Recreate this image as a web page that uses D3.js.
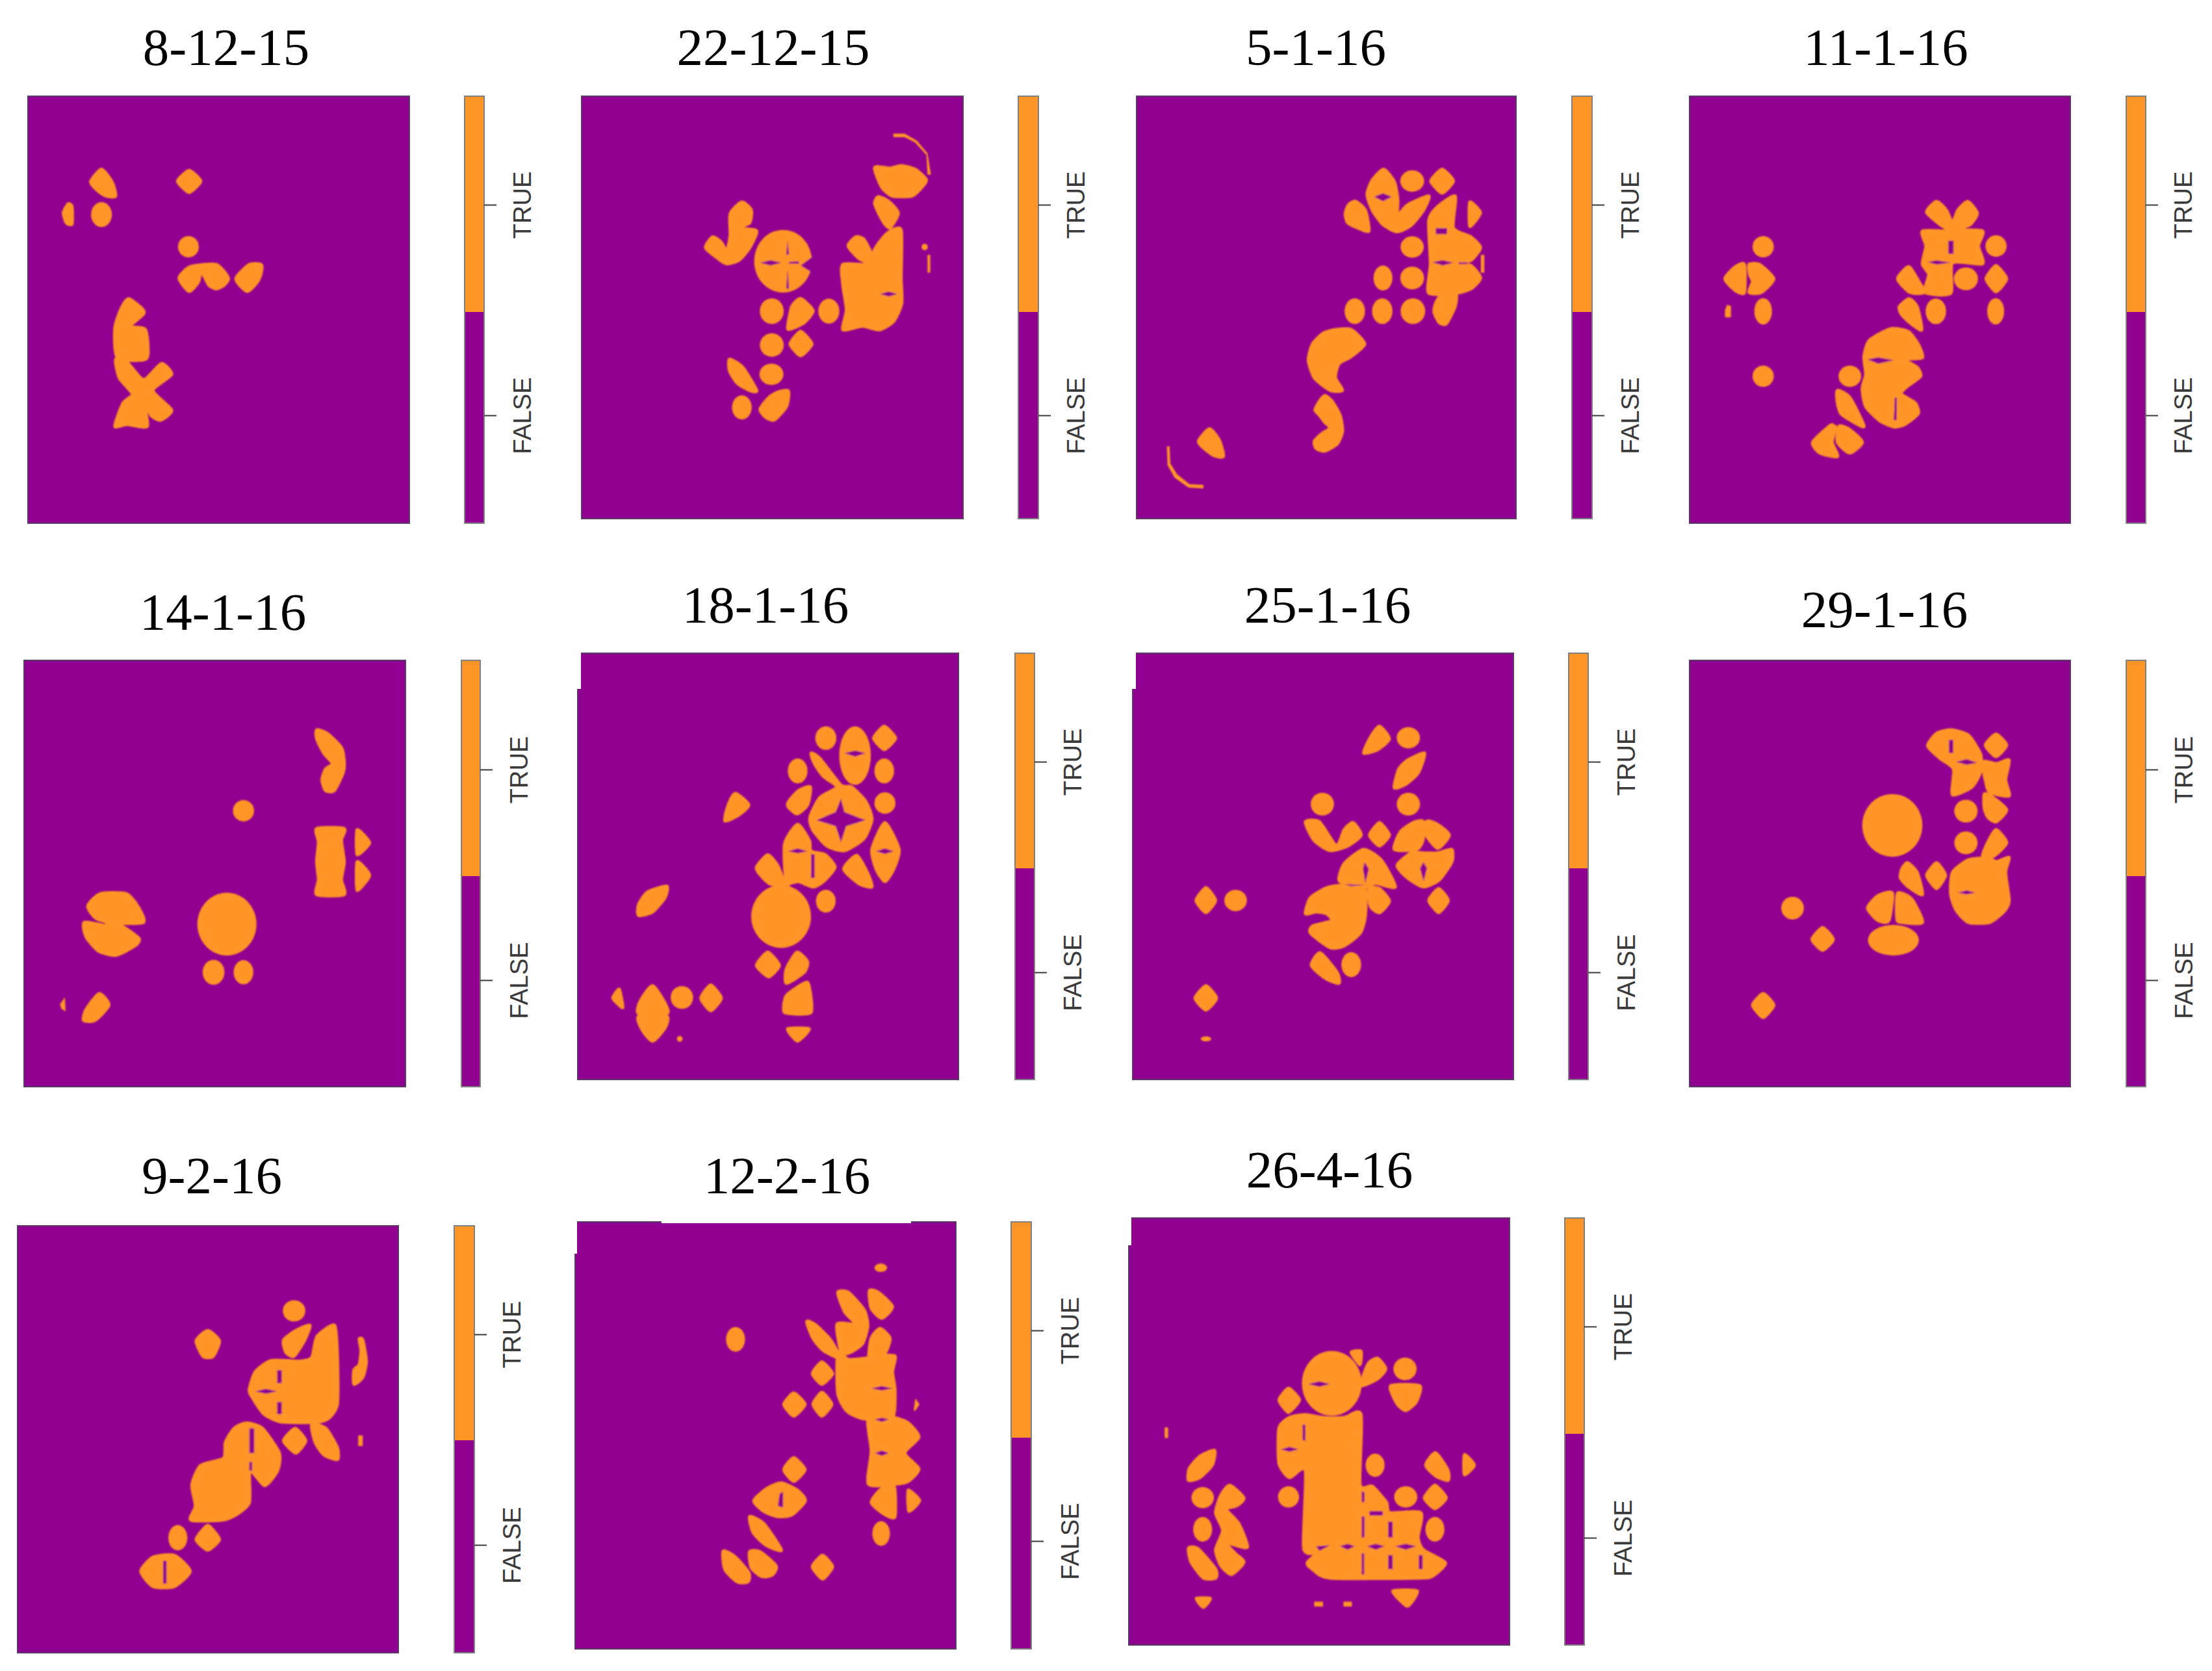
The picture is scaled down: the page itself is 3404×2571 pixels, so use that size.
<!DOCTYPE html>
<html><head><meta charset="utf-8">
<script src="https://cdn.jsdelivr.net/npm/d3@7"></script>
<style>html,body{margin:0;background:#fff}svg{display:block}</style></head>
<body><div id="chart"></div>
<script>
const categories = ["TRUE","FALSE"];
const dates = ["8-12-15","22-12-15","5-1-16","11-1-16","14-1-16","18-1-16","25-1-16","29-1-16","9-2-16","12-2-16","26-4-16"];

// TRUE regions per date. Round regions: cx,cy,rx,ry. Outlines: flat x,y lists.
const round_8_12_15=[[272,602,28,35],[505,692,28,30]];
const true_8_12_15=[[272,475,300,510,310,550,285,550,262,535,243,510],[507,478,538,508,507,540,476,508],[183,572,193,580,193,628,178,625,170,597],[480,780,510,748,580,742,612,780,600,800,580,810,560,800,545,770,538,760,532,790,507,817],[700,742,668,742,632,782,662,817,690,790,700,765],[345,838,380,865,385,880,350,915,390,925,393,1005,315,1003,308,920,325,865],[310,1008,340,1015,385,1065,432,1020,460,1050,410,1095,460,1150,430,1178,405,1165,385,1125,395,1195,340,1190,308,1195,330,1130,355,1105,320,1060]];
const false_8_12_15=[];

const round_22_12_15=[[655,733,82,88],[1057,693,9,9],[623,873,34,36],[785,873,30,35],[623,968,34,33],[622,1050,34,30],[538,1143,28,34]];
const true_22_12_15=[[968,375,1000,375,1035,395,1065,430,1075,490,1065,490,1062,435,1030,400,1000,385,968,385],[915,470,960,472,990,465,1030,475,1062,505,1045,530,1020,550,965,550,935,525],[925,552,955,565,982,598,960,638,945,630,925,595,915,570],[538,567,565,590,560,625,530,640,580,648,560,695,530,730,495,740,470,725,435,695,455,665,480,680,495,705,505,660,505,600],[840,690,862,665,885,672,912,725,905,740,870,725],[825,742,905,742,915,700,950,655,990,645,990,780,992,850,970,900,930,925,880,915,825,925,835,870,825,800],[1065,715,1073,715,1073,765,1065,765],[705,838,740,872,715,905,680,922,668,920,680,860],[705,930,737,965,705,998,675,965],[503,1008,540,1030,580,1095,560,1095,525,1075,503,1040],[670,1097,665,1140,630,1178,605,1170,590,1148,615,1115,640,1100]];
const false_22_12_15=[[745,715,705,745,745,770],[668,675,672,715,664,715],[668,755,672,810,664,810],[590,737,620,730,650,737,620,745],[672,735,700,733,700,740,672,740],[930,825,955,818,980,825,955,832]];

const round_5_1_16=[[873,508,34,30],[873,693,33,30],[790,780,27,35],[873,780,34,32],[710,873,29,36],[788,873,29,36],[875,873,35,36]];
const true_5_1_16=[[792,475,822,510,832,560,830,615,838,600,860,575,920,550,905,590,870,632,830,650,790,630,760,590,745,545,760,505],[958,475,990,508,958,542,926,508],[712,565,740,590,750,648,720,640,690,625,683,600,692,575],[1037,567,1067,597,1037,635],[995,550,990,640,1040,665,1067,695,1040,730,1000,740,1040,745,1067,780,1040,810,1000,822,920,822,925,740,920,620,940,585],[1068,715,1078,715,1078,765,1068,765],[955,830,997,822,995,860,970,908,950,905,935,875,940,850],[655,925,700,925,738,965,700,1000,665,1020,655,1060,675,1095,640,1095,595,1060,578,1010,590,965,620,935],[625,1110,645,1125,668,1165,675,1210,660,1245,625,1265,600,1258,595,1238,615,1218,640,1200,625,1185,610,1165,597,1150,610,1125],[297,1203,325,1235,337,1280,310,1278,282,1258,266,1238],[176,1252,184,1252,186,1300,205,1330,240,1358,280,1360,280,1370,238,1368,198,1340,178,1305]];
const false_5_1_16=[[765,552,790,542,815,552,790,565],[940,640,972,640,972,657,940,657],[930,736,960,730,990,737,960,745],[1005,736,1030,736,1030,741,1005,741]];

const round_11_1_16=[[300,692,30,30],[300,873,25,37],[300,1055,30,30],[873,782,34,32],[958,690,30,30],[788,873,29,36],[957,873,24,37],[545,1055,32,30]];
const true_11_1_16=[[247,742,247,820,222,815,192,782,222,748],[260,742,290,742,330,782,295,820,260,820,270,790,262,770],[198,855,209,858,209,890,192,890,192,870],[790,565,818,590,835,625,850,590,878,565,905,598,885,630,845,645,920,648,908,690,920,740,835,737,830,822,758,820,768,770,750,740,760,690,750,648,825,648,800,630,762,595],[712,748,740,790,755,820,715,820,680,782],[958,745,988,782,958,818,930,782],[712,838,735,860,748,925,715,905,690,880,685,860],[660,922,710,930,738,965,750,1003,700,1008,735,1030,745,1055,705,1085,690,1105,730,1130,738,1160,700,1190,670,1197,630,1180,590,1140,580,1090,590,1050,585,1000,600,955],[510,1095,545,1115,585,1195,550,1180,520,1160,510,1130],[500,1195,490,1193,440,1240,460,1270,510,1280,495,1240,505,1200],[515,1195,545,1205,580,1240,545,1270,510,1240]];
const false_11_1_16=[[823,675,838,675,838,712,823,712],[765,735,790,730,830,737,790,742],[595,1008,625,1002,670,1010,625,1020],[672,1115,678,1115,677,1178,669,1178]];

const round_14_1_16=[[692,707,30,30],[645,1025,84,88],[607,1160,31,35],[692,1160,28,34]];
const true_14_1_16=[[900,480,930,490,970,530,978,570,975,600,950,650,925,650,915,620,925,590,945,575,920,545,900,505],[900,757,978,757,970,790,978,850,970,900,978,942,900,942,905,900,900,850,905,795],[1015,760,1050,797,1015,830],[1015,850,1050,888,1015,930],[250,975,285,940,360,940,395,980,408,1020,330,1022,275,1010],[240,1020,305,1030,345,1030,395,1065,385,1085,330,1112,280,1100,245,1060],[305,1015,330,1015,330,1035,305,1035],[185,1230,187,1270,175,1262,171,1250],[282,1220,310,1252,270,1295,238,1295,245,1265]];
const false_14_1_16=[];

const round_18_1_16=[[777,503,30,33],[860,552,45,82],[697,595,28,35],[943,595,28,35],[945,685,30,30],[777,960,28,32],[650,1003,85,88],[368,1230,32,32],[362,1346,8,8]];
const true_18_1_16=[[943,470,975,503,943,535,913,503],[672,680,700,650,733,640,725,690,695,715,670,695],[520,658,558,690,530,718,490,735,500,690],[735,545,760,560,820,635,850,640,890,680,908,730,885,785,830,818,780,805,740,760,732,725,760,670,808,640,770,610,745,575],[697,745,730,790,735,820,775,830,803,865,770,905,740,920,700,905,665,905,660,800],[612,830,640,860,660,910,670,915,620,912,590,885,580,865],[945,740,985,815,970,870,945,905,920,870,908,815],[865,832,895,880,908,920,870,910,828,870],[325,918,320,950,285,990,245,1000,245,970,270,935],[612,1103,645,1140,615,1172,580,1140],[695,1103,725,1130,715,1160,665,1190,665,1150],[725,1188,735,1272,660,1272,665,1225],[668,1318,730,1318,697,1352],[190,1207,200,1258,178,1240,172,1230],[285,1197,322,1250,325,1275,245,1275,250,1240],[245,1283,325,1283,320,1315,285,1352,255,1320],[450,1195,480,1232,450,1267,422,1232]];
const false_18_1_16=[[830,545,860,538,890,545,860,555],[820,672,830,710,890,733,835,750,820,795,805,750,750,733,805,710],[670,820,697,812,725,820,697,826],[735,828,745,828,745,895,735,895],[920,820,945,812,970,820,945,828]];

const round_25_1_16=[[862,502,33,30],[618,688,33,32],[862,688,33,32],[372,958,32,30],[700,1138,28,35],[288,1346,15,7]];
const true_25_1_16=[[780,470,808,505,775,535,735,545,755,500],[908,545,890,600,855,632,822,642,835,590,860,565],[570,738,610,738,658,805,680,760,705,740,728,775,690,805,640,818,595,790],[780,740,808,775,780,805,752,775],[822,815,840,765,880,738,905,738,903,790,885,815],[915,736,945,745,978,775,945,812,910,770],[985,815,985,850,950,900,905,920,860,895,830,860,870,825,905,825,945,825],[665,900,680,855,735,815,785,845,825,920,770,910,740,920,690,915],[750,925,780,925,808,960,780,992,755,975],[570,995,585,950,640,920,735,917,740,1000,725,1050,680,1085,640,1090,585,1050,590,1030,645,1015,630,995,600,990],[948,925,975,958,948,992,920,958],[288,922,315,958,288,992,260,958],[612,1105,660,1160,665,1190,625,1175,587,1140],[288,1197,318,1232,288,1265,257,1232]];
const false_25_1_16=[[905,850,915,868,905,905,895,868],[738,850,750,870,740,910,733,870],[680,912,740,915,700,918]];

const round_29_1_16=[[665,748,85,88],[873,708,33,32],[873,797,33,32],[383,980,32,32],[668,1070,72,43]];
const true_29_1_16=[[765,525,790,490,830,480,880,495,915,550,913,600,890,640,835,662,838,590,800,560],[958,492,988,523,958,555,928,523],[920,570,960,575,995,565,985,620,995,665,940,655,930,630],[925,660,950,670,988,705,958,738,935,725,925,700],[958,760,988,797,950,835,920,835,935,795],[835,880,880,845,935,840,960,850,995,838,985,880,995,960,980,990,940,1020,880,1020,845,985,830,940],[708,853,735,880,750,942,710,920,688,895,692,870],[790,853,815,888,790,925,762,888],[468,1035,498,1068,468,1098,438,1068],[595,980,625,945,665,938,655,1015,625,1015],[680,938,720,955,750,1020,690,1020,678,1010],[300,1220,330,1252,300,1287,270,1252]];
const false_29_1_16=[[825,508,837,508,837,545,825,545],[845,570,875,562,905,572,875,578],[850,937,875,930,900,937,875,942]];

const round_9_2_16=[[835,547,32,30],[505,1190,27,36]];
const true_9_2_16=[[590,603,623,632,605,676,577,676,557,632],[880,588,865,630,835,675,812,665,805,630,840,603],[950,588,958,680,958,810,935,850,900,862,800,862,750,840,715,790,708,770,725,720,770,688,850,690,885,680,900,620],[1020,627,1030,630,1040,690,1030,735,1005,755,1005,715,1020,700,1025,660],[1017,900,1030,900,1030,930,1017,930],[838,880,868,915,840,950,805,915],[885,868,925,880,958,935,958,968,920,955,895,920],[700,865,745,880,793,950,788,1000,752,1042,710,1000,708,1090,670,1125,630,1140,542,1140,555,1100,545,1040,570,985,635,965,640,920,665,880],[590,1155,623,1195,590,1225,557,1195],[400,1285,435,1245,495,1240,540,1285,495,1328,435,1328]];
const false_9_2_16=[[787,715,800,715,800,752,787,752],[787,805,800,805,800,840,787,840],[725,775,755,768,787,775,755,782],[708,880,722,880,722,950,708,950],[708,975,716,975,716,1000,708,1000],[463,1255,473,1255,473,1320,463,1320]];

const round_12_2_16=[[932,425,18,12],[520,628,27,35],[933,1178,25,35]];
const true_12_2_16=[[810,495,840,495,885,545,895,590,880,640,845,665,820,665,808,585,860,585,830,550],[900,490,925,495,965,535,935,568,905,540],[722,578,745,585,790,630,815,680,770,660,740,625],[930,597,958,625,945,665,915,680,898,680,905,625],[765,692,795,725,765,755,738,725],[810,665,840,685,900,680,920,675,972,675,965,720,972,770,965,850,880,852,835,830,810,780],[685,780,717,812,685,845,657,812],[765,778,793,812,765,845,740,812],[1030,795,1042,812,1030,830,1025,830],[897,850,970,850,1010,865,1040,905,1000,950,1040,995,1010,1030,970,1038,897,1038,905,945],[685,963,717,997,685,1030,657,997],[572,1085,610,1050,650,1035,695,1055,718,1085,680,1125,640,1130,600,1115],[970,1045,972,1130,945,1125,905,1090,935,1050],[1010,1055,1042,1085,1012,1115],[560,1130,600,1150,650,1225,605,1210,570,1175],[485,1228,520,1245,558,1290,555,1315,525,1315,490,1280],[560,1230,590,1230,635,1270,625,1295,595,1300,565,1275],[767,1240,795,1272,767,1307,738,1272]];
const false_12_2_16=[[905,767,935,760,965,767,935,773],[915,855,935,850,955,855,935,862],[915,950,935,943,955,950,935,958],[645,1065,655,1060,655,1105,640,1100]];

const round_26_4_16=[[645,753,85,92],[853,712,33,32],[522,1075,30,30],[768,985,27,33],[855,1075,33,30],[938,1167,27,35],[278,1077,32,30],[278,1167,27,35]];
const true_26_4_16=[[700,665,728,662,725,700],[775,682,798,712,775,740,730,760,735,730,750,695],[812,760,895,760,885,805,855,830,830,810],[522,767,553,800,522,835,495,800],[495,880,525,850,570,842,620,850,680,850,728,842,725,1040,760,1045,800,1090,810,1120,898,1120,890,1190,905,1225,968,1262,930,1300,890,1305,640,1305,590,1280,575,1262,600,1235,565,1220,570,1000,525,1020,495,980],[940,950,975,1000,975,1028,940,1015,912,985],[1022,955,1050,985,1022,1012],[938,1042,970,1078,938,1108,908,1078],[312,943,305,985,270,1020,238,1028,240,995,270,960],[355,1042,395,1078,375,1100,345,1110,380,1150,405,1218,345,1205,370,1235,395,1260,360,1295,330,1270,315,1225,335,1170,315,1120,330,1070],[238,1220,265,1222,315,1280,315,1305,280,1305,245,1260],[170,878,180,878,180,908,170,908],[260,1363,300,1363,280,1388],[595,1372,620,1372,620,1386,595,1386],[678,1372,702,1372,702,1386,678,1386],[818,1342,888,1342,860,1385]];
const false_26_4_16=[[578,755,610,747,640,755,610,763],[562,870,570,870,570,915,562,915],[500,940,525,933,550,940,525,947],[730,1060,738,1060,738,1090,730,1090],[730,1130,738,1130,738,1190,730,1190],[730,1235,737,1235,737,1295,730,1295],[752,1115,790,1115,790,1128,752,1128],[805,1145,818,1145,818,1190,805,1190],[805,1240,818,1240,818,1280,805,1280],[668,1215,690,1208,710,1215,690,1225],[745,1215,770,1208,795,1215,770,1225],[825,1215,855,1208,885,1215,855,1225],[892,1240,903,1240,903,1280,892,1280],[600,1215,640,1212,610,1228]];

const rounds=[round_8_12_15,round_22_12_15,round_5_1_16,round_11_1_16,round_14_1_16,round_18_1_16,round_25_1_16,round_29_1_16,round_9_2_16,round_12_2_16,round_26_4_16];
const trues=[true_8_12_15,true_22_12_15,true_5_1_16,true_11_1_16,true_14_1_16,true_18_1_16,true_25_1_16,true_29_1_16,true_9_2_16,true_12_2_16,true_26_4_16];
const falses=[false_8_12_15,false_22_12_15,false_5_1_16,false_11_1_16,false_14_1_16,false_18_1_16,false_25_1_16,false_29_1_16,false_9_2_16,false_12_2_16,false_26_4_16];

// Layout: page box of each map, the picture extent it shows, the legend bar and the title.
const layout=[
 {px:[43,630],py:[148,805],dx:[75,1097],dy:[270,1467],bar:[715,745],lab:804,tx:348,ty:100,ticks:[315,639],split:480},
 {px:[895,1482],py:[148,798],dx:[83,1166],dy:[270,1455],bar:[1567,1598],lab:1656,tx:1190,ty:100,ticks:[315,639],split:480},
 {px:[1749,2333],py:[148,798],dx:[90,1168],dy:[270,1455],bar:[2419,2450],lab:2509,tx:2025,ty:100,ticks:[315,639],split:480},
 {px:[2600,3186],py:[148,805],dx:[92,1168],dy:[270,1467],bar:[3272,3302],lab:3360,tx:2902,ty:100,ticks:[315,639],split:480},
 {px:[37,624],py:[1016,1672],dx:[69,1152],dy:[285,1481],bar:[710,739],lab:799,tx:343,ty:969,ticks:[1184,1508],split:1348},
 {px:[889,1475],py:[1005,1661],dx:[72,1154],dy:[265,1460],bar:[1562,1592],lab:1651,tx:1178,ty:958,notch:[895,1060],ticks:[1172,1496],split:1336},
 {px:[1743,2329],py:[1005,1661],dx:[80,1160],dy:[265,1460],bar:[2414,2444],lab:2503,tx:2043,ty:958,notch:[1749,1060],ticks:[1172,1496],split:1336},
 {px:[2600,3186],py:[1016,1672],dx:[92,1168],dy:[285,1481],bar:[3272,3302],lab:3361,tx:2900,ty:965,ticks:[1184,1508],split:1348},
 {px:[27,613],py:[1886,2543],dx:[50,1131],dy:[306,1516],bar:[699,730],lab:788,tx:326,ty:1836,ticks:[2053,2377],split:2216},
 {px:[885,1471],py:[1880,2537],dx:[65,1145],dy:[295,1505],bar:[1556,1587],lab:1647,tx:1211,ty:1836,notch:[889,1929],dip:[1018,1402],ticks:[2047,2371],split:2212},
 {px:[1737,2323],py:[1874,2531],dx:[68,1150],dy:[284,1495],bar:[2408,2438],lab:2498,tx:2046,ty:1827,notch:[1742,1916],ticks:[2041,2366],split:2206}
];

const PURPLE="#900090", ORANGE="#fe9527", EDGE="#5a3a66", INK="#3a3a3a";
const svg=d3.select("#chart").append("svg").attr("width",3404).attr("height",2571).attr("viewBox","0 0 3404 2571");
const defs=svg.append("defs");
defs.append("filter").attr("id","soft").append("feGaussianBlur").attr("stdDeviation",0.9);
const colour=d3.scaleOrdinal().domain(categories).range([ORANGE,PURPLE]);

dates.forEach((date,i)=>{
  const L=layout[i];
  const x=d3.scaleLinear().domain(L.dx).range(L.px);
  const y=d3.scaleLinear().domain(L.dy).range(L.py);
  const base=c=>d3.line().x(d=>x(d[0])).y(d=>y(d[1])).curve(c);
  const smooth=base(d3.curveCardinalClosed.tension(0.35));   // blob outlines
  const tight=base(d3.curveCardinalClosed.tension(0.45));    // diamonds and small triangles
  const sharp=base(d3.curveLinearClosed);                    // thin arcs and slits
  const pts=f=>d3.range(0,f.length,2).map(k=>[f[k],f[k+1]]);
  const isThin=f=>{const p=pts(f),w=d3.max(p,d=>d[0])-d3.min(p,d=>d[0]),h=d3.max(p,d=>d[1])-d3.min(p,d=>d[1]);return Math.min(w,h)<20;};
  const isArc=f=>f.length===20&&(f[0]===968||f[0]===176);
  const outline=f=>{const n=f.length/2;return isThin(f)||isArc(f)?sharp(pts(f)):(n<=4?tight(pts(f)):smooth(pts(f)));};
  const grow=f=>isThin(f)||isArc(f)?0:5;
  const g=svg.append("g").attr("class","panel");

  g.append("text").attr("x",L.tx).attr("y",L.ty).attr("text-anchor","middle")
    .attr("font-family","'Liberation Serif',serif").attr("font-size",81).attr("fill","#000").text(date);

  g.append("rect").attr("x",L.px[0]).attr("y",L.py[0]).attr("width",L.px[1]-L.px[0]).attr("height",L.py[1]-L.py[0])
    .attr("fill",colour("FALSE")).attr("stroke",EDGE).attr("stroke-width",2);

  const m=g.append("g").attr("filter","url(#soft)");
  m.selectAll("ellipse").data(rounds[i]).join("ellipse")
    .attr("cx",d=>x(d[0])).attr("cy",d=>y(d[1]))
    .attr("rx",d=>x(d[0]+d[2])-x(d[0])).attr("ry",d=>y(d[1]+d[3])-y(d[1]))
    .attr("fill",colour("TRUE"));
  m.selectAll("path.t").data(trues[i]).join("path").attr("class","t").attr("d",outline)
    .attr("fill",colour("TRUE")).attr("stroke",colour("TRUE")).attr("stroke-width",grow).attr("stroke-linejoin","round");
  m.selectAll("path.f").data(falses[i]).join("path").attr("class","f").attr("d",d=>sharp(pts(d))).attr("fill",colour("FALSE"));

  if(L.notch) g.append("rect").attr("x",L.px[0]-2).attr("y",L.py[0]-2).attr("width",L.notch[0]-L.px[0]+1).attr("height",L.notch[1]-L.py[0]+2).attr("fill","#fff");
  if(L.dip) g.append("rect").attr("x",L.dip[0]).attr("y",L.py[0]-2).attr("width",L.dip[1]-L.dip[0]).attr("height",4).attr("fill","#fff");

  // legend bar: one block per class, ticks at the class centres
  const tick=d3.scalePoint().domain(categories).range(L.ticks);
  const bw=L.bar[1]-L.bar[0];
  const spans=[[L.py[0],L.split],[L.split,L.py[1]]];
  const lg=g.append("g");
  lg.selectAll("rect").data(categories).join("rect")
    .attr("x",L.bar[0]).attr("y",(d,k)=>spans[k][0]).attr("width",bw).attr("height",(d,k)=>spans[k][1]-spans[k][0]).attr("fill",d=>colour(d));
  lg.append("rect").attr("x",L.bar[0]).attr("y",L.py[0]).attr("width",bw).attr("height",L.py[1]-L.py[0])
    .attr("fill","none").attr("stroke","#808080").attr("stroke-width",2);
  const axis=lg.append("g").attr("transform",`translate(${L.bar[1]},0)`).call(d3.axisRight(tick).tickSize(19));
  axis.select(".domain").remove();
  axis.selectAll(".tick line").attr("stroke",INK).attr("stroke-width",2);
  axis.selectAll(".tick text").attr("x",0).attr("dy",0).attr("text-anchor","middle").attr("dominant-baseline","central")
    .attr("transform",`translate(${L.lab-L.bar[1]},0) rotate(-90)`)
    .attr("font-family","'Liberation Sans',sans-serif").attr("font-size",38).attr("fill",INK);
});
</script></body></html>
